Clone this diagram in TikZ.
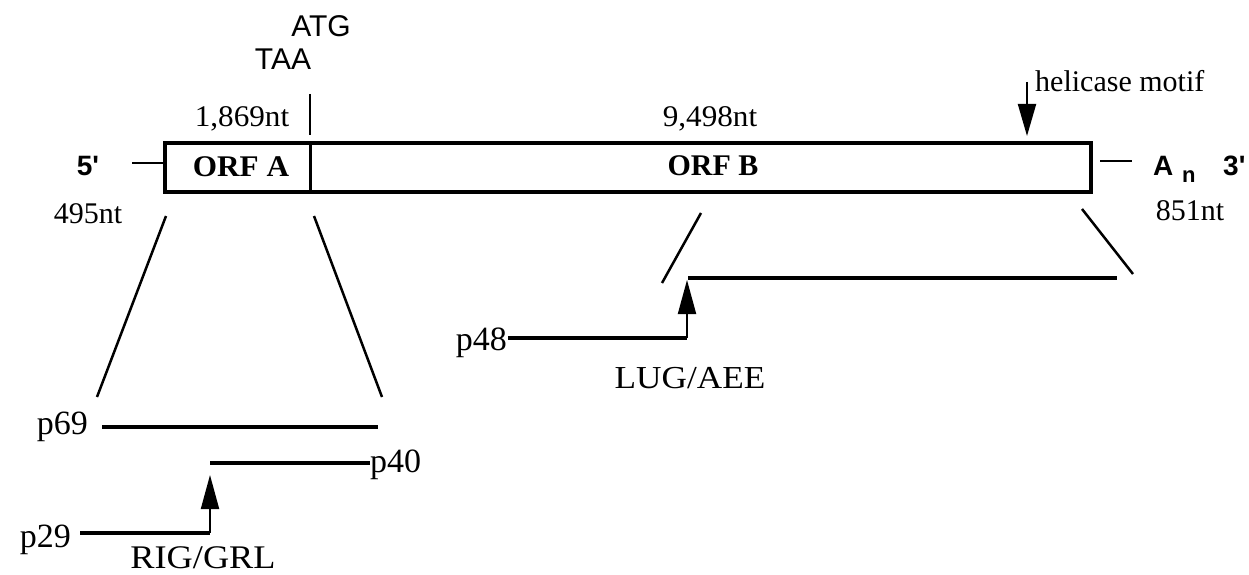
\documentclass[tikz,border=0pt]{standalone}
\usepackage{fontspec}
\usepackage{graphicx}
\setmainfont{Liberation Serif}
\newfontfamily\sansf{Liberation Sans}
\usetikzlibrary{arrows.meta}
\newcommand{\fsz}[1]{\fontsize{#1}{#1}\selectfont}
\newcommand{\wide}[2]{\scalebox{#1}[1]{#2}}
\begin{document}
\begin{tikzpicture}[x=1pt,y=-1pt,
  lbl/.style={inner sep=0pt, anchor=base},
  lblw/.style={inner sep=0pt, anchor=base west},
  lble/.style={inner sep=0pt, anchor=base east},
  boxline/.style={line width=4pt, line join=miter},
  frag/.style={line width=3.5pt},
  thinline/.style={line width=2pt},
  diag/.style={line width=2.5pt},
  cleave/.style={line width=2pt, -{Triangle[length=34pt,width=18pt]}},
  motif/.style={line width=2pt, -{Triangle[length=32pt,width=18pt]}},
]
\useasboundingbox (0,0) rectangle (1249,575);
\fill[white] (0,0) rectangle (1249,575);

% genome box
\coordinate (bNW) at (165,143);
\coordinate (bSE) at (1091,192);
\draw[boxline] (bNW) rectangle (bSE);
\coordinate (divT) at (310,143);
\coordinate (divB) at (310,192);
\draw[line width=3pt] (divT) -- (divB);
\coordinate (tickT) at (310,94);
\coordinate (tickB) at (310,135);
\draw[thinline] (tickT) -- (tickB);

% labels above
\node[lbl] (atg) at (321,37) {\sansf\fsz{30}ATG};
\node[lbl] (taa) at (283,70) {\sansf\fsz{30}TAA};
\node[lbl] (nt1869) at (242,127) {\fsz{30}\wide{1.04}{1,869nt}};
\node[lbl] (nt9498) at (710,126) {\fsz{30}\wide{1.04}{9,498nt}};
\node[lbl] (orfa) at (241,176) {\fsz{30}\bfseries\wide{1.04}{ORF A}};
\node[lbl] (orfb) at (713,175) {\fsz{30}\bfseries ORF B};

% 5' end
\node[lbl] (five) at (88,175) {\sansf\bfseries\fsz{28}5'};
\coordinate (fiveL) at (132,163);
\coordinate (fiveR) at (165,163);
\draw[thinline] (fiveL) -- (fiveR);
\node[lbl] (nt495) at (88,223) {\fsz{30}495nt};

% 3' end
\coordinate (threeL) at (1100,161);
\coordinate (threeR) at (1132,161);
\draw[thinline] (threeL) -- (threeR);
\node[lblw] (an) at (1153,175) {\sansf\bfseries\fsz{28}A};
\node[lblw] (ansub) at (1182,182) {\sansf\bfseries\fsz{22}n};
\node[lblw] (three) at (1223,175) {\sansf\bfseries\fsz{28}3'};
\node[lbl] (nt851) at (1190,220) {\fsz{30}851nt};

% helicase motif
\coordinate (helT) at (1027,82);
\coordinate (helB) at (1027,136);
\draw[motif] (helT) -- (helB);
\node[lblw] (hel) at (1035,92) {\fsz{30}helicase motif};

% ORF A expansion
\coordinate (aLT) at (166,216);
\coordinate (aLB) at (97,397);
\coordinate (aRT) at (314,216);
\coordinate (aRB) at (382,397);
\draw[diag] (aLT) -- (aLB);
\draw[diag] (aRT) -- (aRB);

\coordinate (p69L) at (102,427);
\coordinate (p69R) at (378,427);
\draw[frag] (p69L) -- (p69R);
\node[lble] (p69) at (88,434) {\fsz{34}p69};

\coordinate (p40L) at (210,463);
\coordinate (p40R) at (370,463);
\draw[frag] (p40L) -- (p40R);
\node[lblw] (p40) at (370,472) {\fsz{34}p40};

\coordinate (p29L) at (80,533);
\coordinate (p29R) at (210,533);
\draw[frag] (p29L) -- (p29R);
\node[lble] (p29) at (71,547) {\fsz{34}p29};
\coordinate (cutA) at (210,475);
\draw[cleave] (p29R) -- (cutA);
\node[lbl] (rig) at (203,568) {\fsz{33}\wide{1.1}{RIG/GRL}};

% ORF B expansion
\coordinate (bLT) at (701,213);
\coordinate (bLB) at (662,283);
\coordinate (bRT) at (1082,209);
\coordinate (bRB) at (1133,274);
\draw[diag] (bLT) -- (bLB);
\draw[diag] (bRT) -- (bRB);

\coordinate (longL) at (688,278);
\coordinate (longR) at (1117,278);
\draw[frag] (longL) -- (longR);

\coordinate (p48L) at (508,338);
\coordinate (p48R) at (687,338);
\draw[frag] (p48L) -- (p48R);
\node[lble] (p48) at (507,350) {\fsz{34}p48};
\coordinate (cutB) at (687,280);
\draw[cleave] (p48R) -- (cutB);
\node[lbl] (lug) at (690,388) {\fsz{32}\wide{1.1}{LUG/AEE}};
\end{tikzpicture}
\end{document}
